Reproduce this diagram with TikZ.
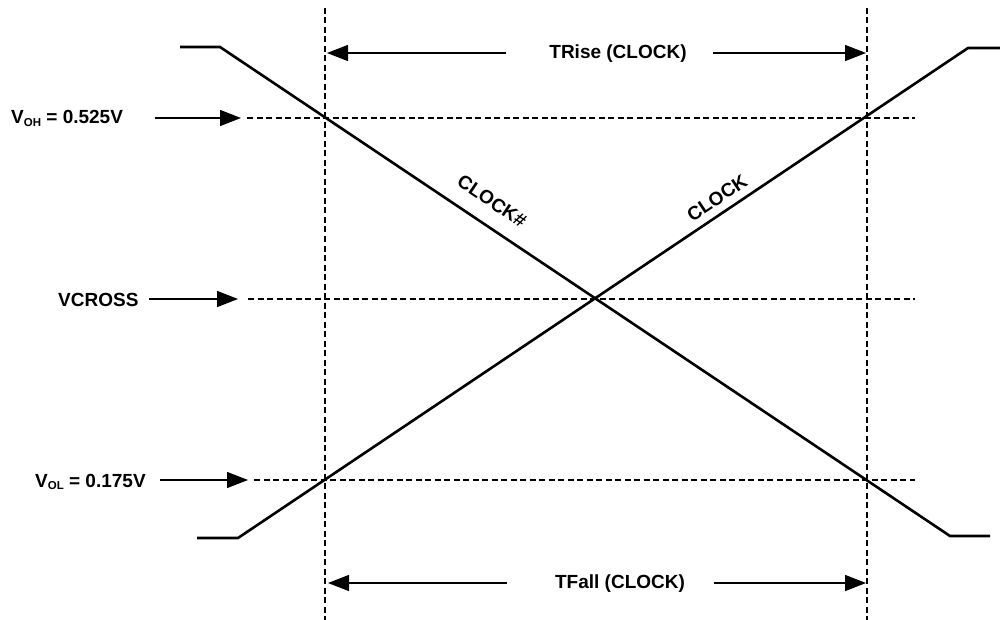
\documentclass[tikz,border=0pt]{standalone}
\usepackage{fontspec}
\setmainfont{Liberation Sans}
\usetikzlibrary{arrows.meta}
\begin{document}
\begin{tikzpicture}[x=1pt,y=-1pt,
  sig/.style={line width=2.6pt, line join=miter},
  guide/.style={line width=2.4pt, dash pattern=on 6pt off 3.5pt},
  ptr/.style={line width=1.4pt, -{Triangle[length=21pt,width=16pt]}},
  lab/.style={font=\fontsize{19}{22}\selectfont\bfseries, inner sep=0pt},
]
\useasboundingbox (0,0) rectangle (1000,620);
\fill[white] (0,0) rectangle (1000,620);

% signal corner points
\coordinate (fa) at (180,47);
\coordinate (fb) at (220,47);
\coordinate (fc) at (950,536);
\coordinate (fd) at (990,536);
\coordinate (ra) at (197,538);
\coordinate (rb) at (238,538);
\coordinate (rc) at (968,48);
\coordinate (rd) at (1000,48);

% guide end points
\coordinate (vlt) at (325,8);
\coordinate (vlb) at (325,620);
\coordinate (vrt) at (867,8);
\coordinate (vrb) at (867,620);
\coordinate (oh1) at (247,118);
\coordinate (oh2) at (915,118);
\coordinate (cr1) at (248,299);
\coordinate (cr2) at (915,299);
\coordinate (ol1) at (254,480);
\coordinate (ol2) at (915,480);

% guides
\draw[guide] (vlt) -- (vlb);
\draw[guide] (vrt) -- (vrb);
\draw[guide] (oh1) -- (oh2);
\draw[guide] (cr1) -- (cr2);
\draw[guide] (ol1) -- (ol2);

% signals
\draw[sig] (fa) -- (fb) -- (fc) -- (fd);
\draw[sig] (ra) -- (rb) -- (rc) -- (rd);

% signal labels
\node[lab, rotate=-33.8] (clkn) at (492,201) {CLOCK\#};
\node[lab, rotate=33.8] (clk) at (717,198) {CLOCK};

% level labels
\node[lab, anchor=base west] (voh) at (11,124) {V\raisebox{-0.25ex}{\fontsize{11.5}{12}\selectfont OH} = 0.525V};
\node[lab, anchor=base west] (vcr) at (58,306) {VCROSS};
\node[lab, anchor=base west] (vol) at (35,487) {V\raisebox{-0.25ex}{\fontsize{11.5}{12}\selectfont OL} = 0.175V};

\coordinate (voht) at (155,118);
\coordinate (vohh) at (241,118);
\coordinate (vcrt) at (149,299);
\coordinate (vcrh) at (238,299);
\coordinate (volt) at (160,480);
\coordinate (volh) at (248,480);
\draw[ptr] (voht) -- (vohh);
\draw[ptr] (vcrt) -- (vcrh);
\draw[ptr] (volt) -- (volh);

% timing labels
\node[lab] (trise) at (618,54) {TRise (CLOCK)};
\node[lab] (tfall) at (620,584) {TFall (CLOCK)};

\coordinate (tr1) at (506,53);
\coordinate (tr1h) at (327,53);
\coordinate (tr2) at (713,53);
\coordinate (tr2h) at (866,53);
\coordinate (tf1) at (507,583);
\coordinate (tf1h) at (328,583);
\coordinate (tf2) at (714,583);
\coordinate (tf2h) at (866,583);
\draw[ptr] (tr1) -- (tr1h);
\draw[ptr] (tr2) -- (tr2h);
\draw[ptr] (tf1) -- (tf1h);
\draw[ptr] (tf2) -- (tf2h);
\end{tikzpicture}
\end{document}
